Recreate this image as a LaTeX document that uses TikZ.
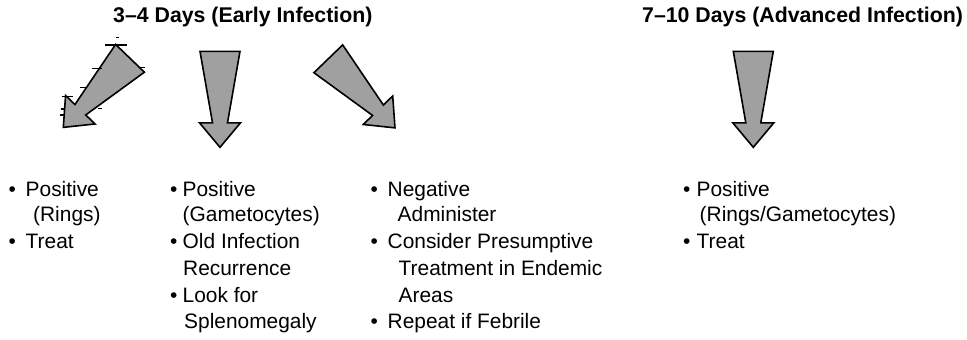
\documentclass[tikz,border=0pt]{standalone}
\usepackage{fontspec}
\setmainfont{Liberation Sans}
\definecolor{arrowgray}{RGB}{160,160,160}
\tikzset{
  blockarrowstyle/.style={draw=black, fill=arrowgray, line width=1.6pt, line join=miter},
  blockarrow/.pic={
    \path[blockarrowstyle] (-20,0) -- (20,0) -- (7.5,71.5) -- (20.5,71.5)
      -- (0,96) -- (-20.5,71.5) -- (-7.5,71.5) -- cycle;
  },
  speck/.style={draw=black, line width=1.1pt},
  heading/.style={inner sep=0pt, anchor=base west, font=\fontsize{21.3}{25}\selectfont\bfseries},
  item/.style={inner sep=0pt, anchor=base west, font=\fontsize{20.9}{24}\selectfont},
}
\newcommand{\bul}[1]{\makebox[#1][l]{•}}
\begin{document}
\begin{tikzpicture}[x=1pt, y=-1pt]
\useasboundingbox[fill=white] (0,0) rectangle (967,340);

% headings
\node[heading] (early) at (113,23) {3–4 Days (Early Infection)};
\node[heading] (adv) at (642,23) {7–10 Days (Advanced Infection)};

% block arrows
\pic (aleft) [rotate=-44] at (130,58.3) {blockarrow};
\pic (amid) at (220,51.3) {blockarrow};
\pic (aright) [rotate=44] at (328.3,58.8) {blockarrow};
\pic (aadv) at (753.3,51.3) {blockarrow};

% small stray marks around the left arrow
\draw[speck] (115.5,37.3) -- (119,37.3);
\draw[speck] (105,45) -- (127.3,45);
\draw[speck] (139,67.5) -- (145,67.5);
\draw[speck] (91.7,68.3) -- (101.7,68.3);
\draw[speck] (80,87.3) -- (86.7,87.3);
\draw[speck] (61.7,96.7) -- (73.3,96.7);
\draw[speck] (60.7,109) -- (65,109);
\draw[speck] (60,115) -- (65,115);
\draw[speck] (98,108.3) -- (101.7,108.3);

% first column
\node[item] (c1a) at (8.5,196) {\bul{17pt}Positive};
\node[item] (c1b) at (33,221) {(Rings)};
\node[item] (c1c) at (8.5,248) {\bul{17pt}Treat};

% second column
\node[item] (c2a) at (170,196) {\bul{12.5pt}Positive};
\node[item] (c2b) at (182.5,221) {(Gametocytes)};
\node[item] (c2c) at (170,248) {\bul{12.5pt}Old Infection};
\node[item] (c2d) at (183,275) {Recurrence};
\node[item] (c2e) at (170,302) {\bul{12.5pt}Look for};
\node[item] (c2f) at (184,328) {Splenomegaly};

% third column
\node[item] (c3a) at (370.5,196) {\bul{17pt}Negative};
\node[item] (c3b) at (397.5,221) {Administer};
\node[item] (c3c) at (370.5,248) {\bul{17pt}Consider Presumptive};
\node[item] (c3d) at (398.5,275) {Treatment in Endemic};
\node[item] (c3e) at (398.5,302) {Areas};
\node[item] (c3f) at (370.5,328) {\bul{17pt}Repeat if Febrile};

% fourth column
\node[item] (c4a) at (683,196) {\bul{13.5pt}Positive};
\node[item] (c4b) at (699.5,221) {(Rings/Gametocytes)};
\node[item] (c4c) at (683,248) {\bul{13.5pt}Treat};
\end{tikzpicture}
\end{document}
